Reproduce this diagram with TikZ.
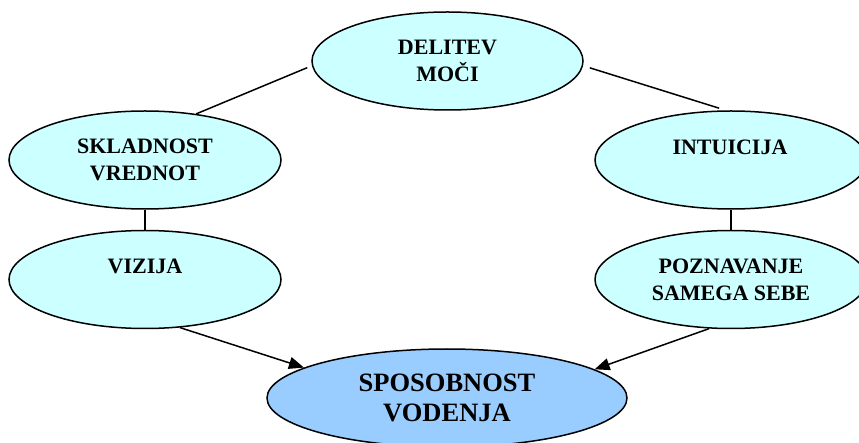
\documentclass[tikz,border=0pt]{standalone}
\usepackage{fontspec}
\setmainfont{Liberation Serif}
\usetikzlibrary{shapes.geometric,arrows.meta}
\definecolor{palecyan}{HTML}{CCFFFF}
\definecolor{skyblue}{HTML}{99CCFF}
\tikzset{
  oval/.style={ellipse, draw=black, line width=1.5pt, fill=palecyan,
    minimum width=272pt, minimum height=98pt, inner sep=0pt,
    align=center, font=\bfseries\fontsize{22}{27}\selectfont},
  goal/.style={oval, fill=skyblue, minimum width=360pt,
    font=\bfseries\fontsize{26.5}{30}\selectfont},
  lbl/.style={inner sep=0pt, font=\bfseries\fontsize{22}{27}\selectfont},
  link/.style={line width=1.5pt},
  flow/.style={line width=1.5pt, -{Triangle[length=15pt,width=12pt]}}
}
\begin{document}
\begin{tikzpicture}[x=1pt,y=-1pt]
  \useasboundingbox (0,0) rectangle (859,443);

  % ovals
  \node[oval, minimum width=271pt] (del) at (447.5,61) {DELITEV\\MOČI};
  \node[oval] (sk)  at (145,160) {SKLADNOST\\VREDNOT};
  \node[oval] (int) at (731,160) {};
  \node[oval] (viz) at (145,279.5) {};
  \node[oval] (poz) at (731,279.5) {POZNAVANJE\\SAMEGA SEBE};
  \node[goal] (spo) at (447,398) {SPOSOBNOST\\VODENJA};

  % one-line captions sit in the upper half of their ovals
  \node[lbl] (intt) at (730,147) {INTUICIJA};
  \node[lbl] (vizt) at (145,266) {VIZIJA};

  % plain links
  \draw[link, shorten >=5pt] (sk.42.8) -- (del.182);
  \draw[link, shorten <=7pt, shorten >=7pt] (del.-2) -- (int.96);
  \draw[link] (sk.south) -- (viz.north);
  \draw[link] (int.south) -- (poz.north);

  % arrows into the goal
  \draw[flow] (viz.-54.2) -- (spo.168.6);
  \draw[flow] (poz.-114) -- (spo.11.3);
\end{tikzpicture}
\end{document}
